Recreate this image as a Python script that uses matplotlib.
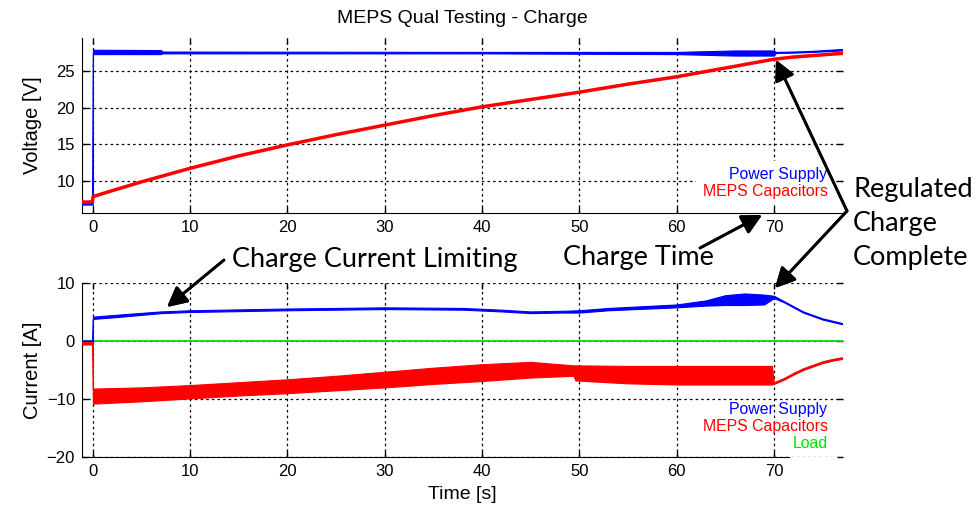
import matplotlib.pyplot as plt
from matplotlib.lines import Line2D

# ---------------- data ---------------- #
# top panel: voltages
t_vsup = [-1.1, -0.02, 0.02, 7.0, 7.2, 40.0, 60.0, 66.0, 70.0, 70.2, 72.0, 74.0, 77.0]
vsup_hi = [6.95, 6.95, 27.9, 27.85, 27.65, 27.6, 27.6, 27.8, 27.8, 27.6, 27.65, 27.75, 28.0]
vsup_lo = [6.75, 6.75, 27.3, 27.3, 27.4, 27.4, 27.3, 27.1, 27.1, 27.45, 27.5, 27.6, 27.8]

t_vcap = [-1.1, -0.05, 0.05, 2, 5, 10, 15, 20, 25, 30, 35, 40, 45, 50, 55, 60, 65, 70, 72, 75, 77]
vcap = [7.1, 7.1, 7.85, 8.65, 9.85, 11.7, 13.4, 14.9, 16.3, 17.6, 18.9, 20.1, 21.1, 22.1,
        23.2, 24.2, 25.4, 26.6, 26.9, 27.2, 27.4]

# bottom panel: currents
t_isup = [-1.1, -0.02, 0.02, 3, 7, 10, 20, 30, 38, 42, 45, 48, 50, 53, 60, 63, 65, 67,
          69, 70, 71, 72, 73, 74, 75, 76, 77]
isup_hi = [0.1, 0.1, 4.2, 4.6, 5.1, 5.3, 5.6, 5.8, 5.7, 5.4, 5.1, 5.2, 5.3, 5.7, 6.3, 7.0,
           7.9, 8.2, 8.0, 7.8, 6.9, 6.0, 5.1, 4.5, 3.9, 3.5, 3.1]
isup_lo = [-0.1, -0.1, 3.8, 4.2, 4.8, 5.0, 5.3, 5.5, 5.4, 5.1, 4.8, 4.9, 4.9, 5.3, 5.8, 6.1,
           6.2, 6.2, 6.3, 7.4, 6.7, 5.8, 4.9, 4.3, 3.7, 3.3, 2.9]

t_icap = [-1.1, -0.02, 0.02, 5, 10, 15, 20, 25, 30, 35, 40, 45, 49.4, 49.6, 55, 60, 65,
          69.8, 70, 71, 72, 73, 74, 75, 76, 77]
icap_hi = [-0.2, -0.2, -8.2, -8.0, -7.6, -7.1, -6.6, -6.0, -5.3, -4.6, -4.0, -3.6, -4.2,
           -4.2, -4.3, -4.3, -4.3, -4.3, -7.1, -6.4, -5.5, -4.7, -4.1, -3.5, -3.1, -2.8]
icap_lo = [-0.6, -0.6, -10.8, -10.4, -9.9, -9.4, -9.0, -8.5, -8.0, -7.4, -6.9, -6.3, -6.0,
           -6.8, -7.3, -7.5, -7.5, -7.5, -7.4, -6.7, -5.8, -5.0, -4.4, -3.8, -3.4, -3.1]

t_load = [-1.1, 77]
i_load = [0, 0]

x_ticks = [0, 10, 20, 30, 40, 50, 60, 70]
v_ticks = [10, 15, 20, 25]
i_ticks = [-20, -10, 0, 10]

BLUE, RED, GREEN = "#0000ff", "#ff0000", "#00e000"
W, H = 977, 515

plt.rcParams["font.family"] = ["Liberation Sans", "DejaVu Sans"]

fig = plt.figure(figsize=(W / 100, H / 100), dpi=100)


def px_axes(left, top, right, bottom):
    return [left / W, 1 - bottom / H, (right - left) / W, (bottom - top) / H]


def px(x, y):
    return (x / W, 1 - y / H)


ax_v = fig.add_axes(px_axes(82, 38, 843, 213))
ax_i = fig.add_axes(px_axes(82, 283, 843, 457))

# voltages
ax_v.fill_between(t_vsup, vsup_lo, vsup_hi, color=BLUE, lw=0.8, zorder=3)
ax_v.plot(t_vcap, vcap, color=RED, lw=2.5, zorder=3)

# currents
ax_i.plot(t_load, i_load, color=GREEN, lw=1.3, zorder=3)
ax_i.fill_between(t_isup, isup_lo, isup_hi, color=BLUE, lw=0.8, zorder=3)
ax_i.fill_between(t_icap, icap_lo, icap_hi, color=RED, lw=0.8, zorder=3)

for ax in (ax_v, ax_i):
    ax.set_xlim(-1.1, 77.1)
    ax.set_xticks(x_ticks)
    ax.grid(True, color="black", linestyle=(0, (2, 2.5)), linewidth=0.9)
    ax.spines["top"].set_visible(False)
    ax.spines["right"].set_visible(False)
    ax.tick_params(direction="in", top=True, right=True, length=4, width=1,
                   labelsize=12, pad=5)

ax_v.set_ylim(5.6, 29.5)
ax_v.set_yticks(v_ticks)
ax_i.set_ylim(-20, 10)
ax_i.set_yticks(i_ticks)
ax_i.spines["bottom"].set_bounds(-1.1, 71.6)

ax_v.set_ylabel("Voltage [V]", fontsize=14.5)
ax_i.set_ylabel("Current [A]", fontsize=14.5)
ax_v.yaxis.set_label_coords(-0.052, 0.5)
ax_i.yaxis.set_label_coords(-0.052, 0.5)
ax_i.set_xlabel("Time [s]", fontsize=14, labelpad=5)
ax_v.set_title("MEPS Qual Testing - Charge", fontsize=14, pad=11)

# legends (coloured text only)
h_sup = Line2D([], [], color=BLUE)
h_cap = Line2D([], [], color=RED)
h_load = Line2D([], [], color=GREEN)
leg_kw = dict(handlelength=0, handletextpad=0, markerfirst=False, labelcolor="linecolor",
              fontsize=11.4, labelspacing=0.12, borderpad=0.4, borderaxespad=0,
              loc="lower right")
ax_v.legend([h_sup, h_cap], ["Power Supply", "MEPS Capacitors"],
            bbox_to_anchor=(0.988, 0.045), frameon=True, fancybox=False,
            facecolor="white", edgecolor="none", framealpha=1, **leg_kw)
ax_i.legend([h_sup, h_cap, h_load], ["Power Supply", "MEPS Capacitors", "Load"],
            bbox_to_anchor=(0.988, 0.0), frameon=False, **leg_kw)

# annotations
ann_font = dict(fontsize=19.5, family=["Lato", "DejaVu Sans"], color="black", va="center")
arrow = dict(arrowstyle="-|>,head_length=0.55,head_width=0.28", color="black", lw=2,
             mutation_scale=22, shrinkA=0, shrinkB=0)

fig.text(*px(232, 259), "Charge Current Limiting", **ann_font)
fig.text(*px(563, 258), "Charge Time", **ann_font)
fig.text(*px(853, 224), "Regulated\nCharge\nComplete", linespacing=1.45, **ann_font)

fig.add_artist(plt.annotate("", xy=px(167, 307), xytext=px(224, 260),
                            xycoords="figure fraction", textcoords="figure fraction",
                            arrowprops=arrow))
fig.add_artist(plt.annotate("", xy=px(762, 215), xytext=px(700, 248),
                            xycoords="figure fraction", textcoords="figure fraction",
                            arrowprops=arrow))
fig.add_artist(plt.annotate("", xy=px(776, 60), xytext=px(847, 211),
                            xycoords="figure fraction", textcoords="figure fraction",
                            arrowprops=arrow))
fig.add_artist(plt.annotate("", xy=px(775, 288), xytext=px(847, 211),
                            xycoords="figure fraction", textcoords="figure fraction",
                            arrowprops=arrow))

fig.savefig("out.png", dpi=100)
